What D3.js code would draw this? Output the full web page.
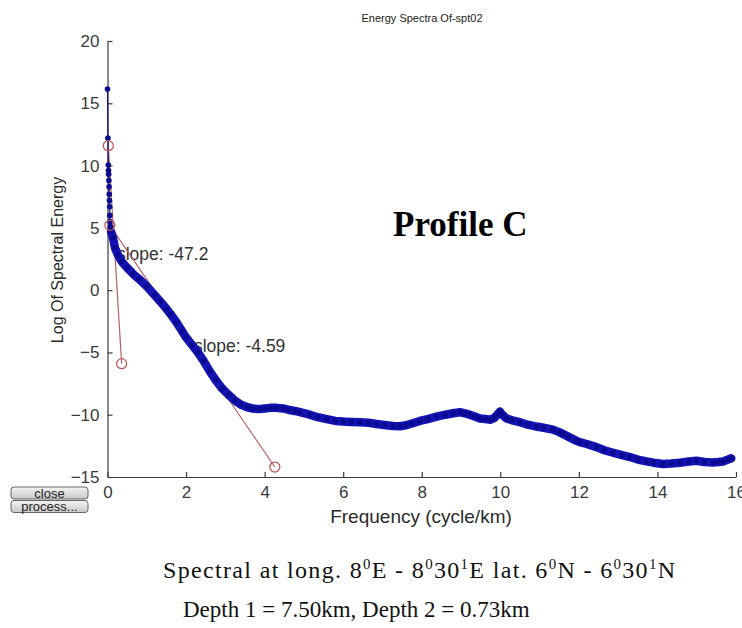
<!DOCTYPE html>
<html>
<head>
<meta charset="utf-8">
<script src="https://cdn.jsdelivr.net/npm/d3@7"></script>
<style>
  html, body { margin: 0; padding: 0; background: #fff; }
  svg { display: block; }
</style>
</head>
<body>
<svg id="chart" width="742" height="628"></svg>
<script>
// ---------------- data ----------------
const freq = [
  0.000, 0.010, 0.020, 0.025, 0.030, 0.035, 0.040, 0.045, 0.050, 0.055, 0.060, 0.065, 0.075, 0.090,
  0.14, 0.19, 0.27, 0.36, 0.50, 0.65, 0.80, 1.00, 1.20, 1.34, 1.50, 1.60, 1.76, 1.90, 2.00, 2.15,
  2.30, 2.45, 2.60, 2.75, 2.92, 3.08, 3.24, 3.40, 3.56, 3.70, 3.85, 4.00, 4.15, 4.30, 4.47, 4.60,
  4.77, 4.90, 5.15, 5.35, 5.58, 5.80, 6.00, 6.20, 6.42, 6.65, 6.85, 7.05, 7.27, 7.45, 7.60, 7.75,
  7.95, 8.15, 8.38, 8.60, 8.80, 8.97, 9.10, 9.22, 9.35, 9.48, 9.62, 9.75, 9.85, 9.92, 9.99, 10.05,
  10.16, 10.30, 10.50, 10.70, 10.92, 11.10, 11.34, 11.50, 11.59, 11.75, 11.94, 12.02, 12.20, 12.45,
  12.65, 12.87, 13.10, 13.30, 13.50, 13.72, 13.90, 14.14, 14.35, 14.57, 14.80, 14.99, 15.20, 15.41,
  15.55, 15.67, 15.80, 15.88
];
const energy = [
  16.15, 12.2, 10.05, 9.6, 9.3, 8.8, 8.3, 7.7, 7.2, 6.7, 6.0, 5.5, 5.1, 4.7,
  4.2, 3.4, 2.8, 2.3, 1.8, 1.3, 0.9, 0.3, -0.4, -0.9, -1.5, -1.9, -2.6, -3.3, -3.8, -4.4,
  -5.0, -5.7, -6.5, -7.2, -7.9, -8.4, -8.85, -9.2, -9.4, -9.5, -9.55, -9.5, -9.45, -9.45, -9.5, -9.6,
  -9.7, -9.8, -10.0, -10.2, -10.36, -10.5, -10.55, -10.58, -10.6, -10.65, -10.74, -10.82, -10.9, -10.92, -10.85, -10.7,
  -10.5, -10.35, -10.15, -10.0, -9.88, -9.8, -9.9, -10.0, -10.15, -10.3, -10.35, -10.4, -10.25, -10.0, -9.75, -10.0,
  -10.3, -10.45, -10.6, -10.8, -10.95, -11.05, -11.2, -11.4, -11.54, -11.8, -12.1, -12.2, -12.35, -12.6,
  -12.85, -13.05, -13.25, -13.4, -13.6, -13.75, -13.85, -13.95, -13.92, -13.85, -13.75, -13.7, -13.8, -13.84,
  -13.8, -13.75, -13.6, -13.5
];

// slope fits
const slopeLabels = ["slope: -47.2", "slope: -4.59"];
const slopeStartF = [0.02, 0.06];
const slopeStartE = [11.6, 5.2];
const slopeEndF   = [0.36, 4.26];
const slopeEndE   = [-5.9, -14.2];
const slopeLabelF = [0.24, 2.2];
const slopeLabelE = [2.4, -4.95];

const xTicks = [0, 2, 4, 6, 8, 10, 12, 14, 16];
const yTicks = [-15, -10, -5, 0, 5, 10, 15, 20];

const titleText = "Energy Spectra Of-spt02";
const xLabelText = "Frequency (cycle/km)";
const yLabelText = "Log Of Spectral Energy";
const profileText = "Profile C";
const buttonLabels = ["close", "process..."];

// ---------------- drawing ----------------
const svg = d3.select("#chart");
svg.append("rect").attr("width", 742).attr("height", 628).attr("fill", "#fff");

const x = d3.scaleLinear().domain([0, 16]).range([107.5, 736]);
const y = d3.scaleLinear().domain([-15, 20]).range([477, 41]);

const sans = "Arial, 'Liberation Sans', Helvetica, sans-serif";
const serif = "'Times New Roman', 'Liberation Serif', Times, serif";

// axes
const xAxis = d3.axisBottom(x).tickValues(xTicks).tickSize(-5).tickSizeOuter(0).tickPadding(9);
const yAxis = d3.axisLeft(y).tickValues(yTicks).tickSize(-5).tickSizeOuter(0).tickPadding(8);

const gx = svg.append("g").attr("transform", `translate(0,${y(-15)})`).call(xAxis);
const gy = svg.append("g").attr("transform", `translate(${x(0)},0)`).call(yAxis);
[gx, gy].forEach(g => {
  g.select(".domain").attr("stroke", "#3c3c3c").attr("stroke-width", 1.2);
  g.selectAll(".tick line").attr("stroke", "#3c3c3c").attr("stroke-width", 1.2);
  g.selectAll(".tick text").attr("fill", "#3a3a3a").style("font-family", sans).style("font-size", "17px");
});

// titles
svg.append("text").attr("x", 422).attr("y", 22).attr("text-anchor", "middle")
  .style("font-family", sans).style("font-size", "11px").attr("fill", "#222").text(titleText);
svg.append("text").attr("x", 421).attr("y", 523).attr("text-anchor", "middle")
  .style("font-family", sans).style("font-size", "19px").attr("fill", "#2a2a2a").text(xLabelText);
svg.append("text").attr("transform", "translate(63,260) rotate(-90)").attr("text-anchor", "middle")
  .style("font-family", sans).style("font-size", "16px").attr("fill", "#2a2a2a").text(yLabelText);

// slope labels (under the curve)
slopeLabels.forEach((t, i) => {
  svg.append("text").attr("x", x(slopeLabelF[i])).attr("y", y(slopeLabelE[i]))
    .style("font-family", sans).style("font-size", "17.5px").attr("fill", "#333").text(t);
});

// slope lines
const redLine = "#b46464";
slopeLabels.forEach((t, i) => {
  svg.append("line")
    .attr("x1", x(slopeStartF[i])).attr("y1", y(slopeStartE[i]))
    .attr("x2", x(slopeEndF[i])).attr("y2", y(slopeEndE[i]))
    .attr("stroke", redLine).attr("stroke-width", 1.2);
});

// spectrum curve
const pts = freq.map((f, i) => ({ f, e: energy[i] }));
const line = d3.line().x(d => x(d.f)).y(d => y(d.e));
svg.append("path").datum(pts).attr("d", line)
  .attr("fill", "none").attr("stroke", "#101080").attr("stroke-width", 1.2);
svg.append("path").datum(pts.filter(d => d.f >= 0.09)).attr("d", line)
  .attr("fill", "none").attr("stroke", "#1414b4").attr("stroke-width", 8.5)
  .attr("stroke-linejoin", "round").attr("stroke-linecap", "round");
svg.selectAll("circle.pt").data(pts).join("circle").attr("class", "pt")
  .attr("cx", d => x(d.f)).attr("cy", d => y(d.e)).attr("r", 2.8)
  .attr("fill", "#0a0a90");

// slope end markers
slopeLabels.forEach((t, i) => {
  [[slopeStartF[i], slopeStartE[i]], [slopeEndF[i], slopeEndE[i]]].forEach(p => {
    svg.append("circle").attr("cx", x(p[0])).attr("cy", y(p[1])).attr("r", 5)
      .attr("fill", "none").attr("stroke", "#c05a5a").attr("stroke-width", 1.3);
  });
});

// profile label
svg.append("text").attr("x", 393).attr("y", 236)
  .style("font-family", serif).style("font-weight", "bold").style("font-size", "35px")
  .attr("fill", "#000").text(profileText);

// buttons
const defs = svg.append("defs");
const grad = defs.append("linearGradient").attr("id", "btn").attr("x1", 0).attr("y1", 0).attr("x2", 0).attr("y2", 1);
grad.append("stop").attr("offset", "0%").attr("stop-color", "#f4f4f4");
grad.append("stop").attr("offset", "100%").attr("stop-color", "#c8c8c8");
buttonLabels.forEach((b, i) => {
  const by = 487 + i * 13.5;
  svg.append("rect").attr("x", 11).attr("y", by).attr("width", 77).attr("height", 12).attr("rx", 3)
    .attr("fill", "url(#btn)").attr("stroke", "#666").attr("stroke-width", 1);
  svg.append("text").attr("x", 49.5).attr("y", by + 10.5).attr("text-anchor", "middle")
    .style("font-family", sans).style("font-size", "13px").attr("fill", "#222").text(b);
});

// captions with superscripts
function caption(yPos, xPos, parts, size, targetWidth) {
  const t = svg.append("text").attr("x", xPos).attr("y", yPos)
    .style("font-family", serif).style("font-size", size + "px").attr("fill", "#111");
  const shift = size * 0.36;
  let pending = 0;
  parts.forEach(p => {
    const s = t.append("tspan");
    if (p.sup) {
      s.attr("dy", pending - shift).style("font-size", (size * 0.62) + "px");
      pending = shift;
    } else {
      if (pending) s.attr("dy", pending);
      pending = 0;
    }
    s.text(p.t);
  });
  if (targetWidth) {
    const len = t.node().getComputedTextLength();
    const n = parts.map(p => p.t).join("").length;
    if (len < targetWidth && n > 1) t.style("letter-spacing", ((targetWidth - len) / (n - 1)) + "px");
  }
}
caption(578, 163, [
  { t: "Spectral at long. 8" }, { t: "0", sup: true }, { t: "E - 8" }, { t: "0", sup: true },
  { t: "30" }, { t: "1", sup: true }, { t: "E lat. 6" }, { t: "0", sup: true }, { t: "N - 6" },
  { t: "0", sup: true }, { t: "30" }, { t: "1", sup: true }, { t: "N" }
], 24, 512);
caption(617, 183, [{ t: "Depth 1 = 7.50km, Depth 2 = 0.73km" }], 23);
</script>
</body>
</html>
